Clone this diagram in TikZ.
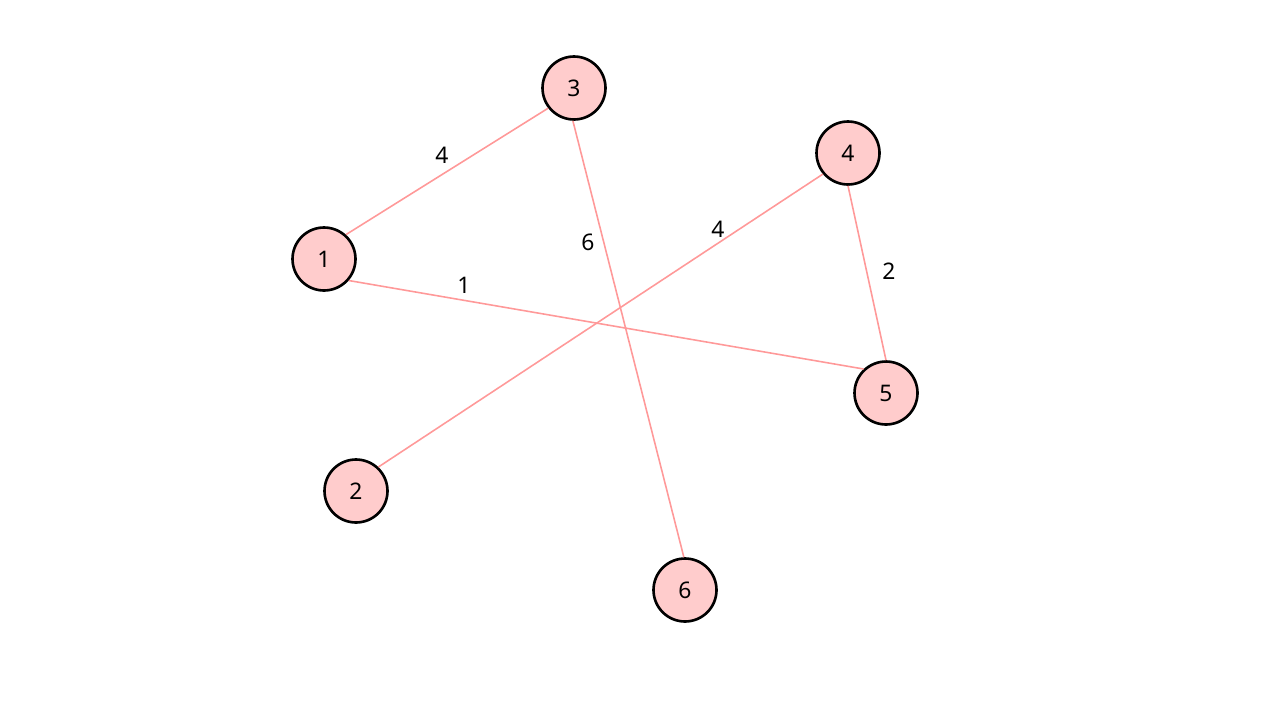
\documentclass[tikz,border=0pt]{standalone}
\usepackage{fontspec}
\setmainfont{Noto Sans}
\usepackage{tikz}
\definecolor{NodeFill}{HTML}{FFCCCC}
\definecolor{EdgePink}{HTML}{FF9999}

\begin{document}
\begin{tikzpicture}[x=0.02cm,y=-0.02cm,font=\fontsize{13}{15}\selectfont,
    vert/.style={circle,draw=black,line width=1.5pt,fill=NodeFill,minimum size=1.26cm,inner sep=0pt},
    edge/.style={EdgePink,line width=0.9pt},
    wt/.style={text=black}]
        \useasboundingbox (0,0) rectangle (1280,720);
        \node[vert] (v1) at (324,259) {1};
        \node[vert] (v2) at (356,491) {2};
        \node[vert] (v3) at (574,88) {3};
        \node[vert] (v4) at (848,153) {4};
        \node[vert] (v5) at (886,393) {5};
        \node[vert] (v6) at (685,590) {6};
        \draw[edge] (v1.48)--(v3.218);\draw[edge] (v1.-41)--(v5.133);
        \draw[edge] (v3.-92)--(v6.92);
        \draw[edge] (v4.220)--(v2.47);\draw[edge] (v4.-90)--(v5.90);
        \node[wt] (w13) at (442,155) {4};
        \node[wt] (w15) at (464,285) {1};
        \node[wt] (w36) at (588,242) {6};
        \node[wt] (w42) at (718,229) {4};
        \node[wt] (w45) at (889,271) {2};
      \end{tikzpicture}
\end{document}
